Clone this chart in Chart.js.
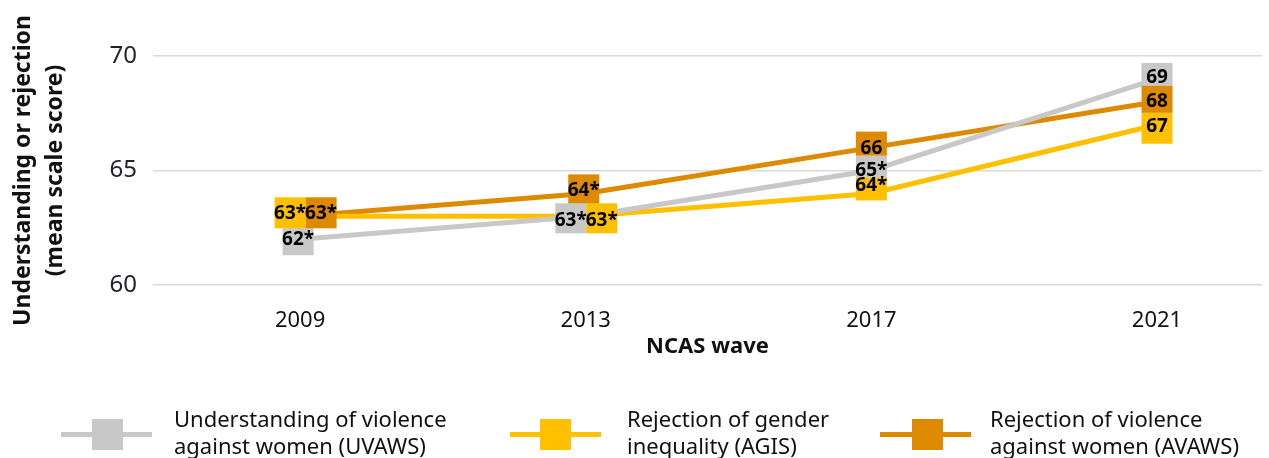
<!DOCTYPE html>
<html>
<head>
<meta charset="utf-8">
<script src="https://cdn.jsdelivr.net/npm/chart.js@4"></script>
<style>
    body { margin: 0; background: #fff; font-family: 'Noto Sans', sans-serif; }
    .wrap { position: relative; width: 1269px; height: 458px; }
    .legend-item { position: absolute; top: 405px; font-size: 22px; line-height: 27px; color: #111; white-space: nowrap; }
    .legend-line { position: absolute; height: 5px; top: 432px; }
    .legend-box { position: absolute; width: 31px; height: 31px; top: 419px; }
</style>
</head>
<body>
<div class="wrap">
    <canvas id="trendChart" width="1269" height="458"></canvas>
    <div class="legend-line" style="left:61px;width:91px;background:#c8c8c8"></div>
    <div class="legend-box" style="left:92px;background:#c8c8c8"></div>
    <div class="legend-item" style="left:174px">Understanding of violence<br>against women (UVAWS)</div>
    <div class="legend-line" style="left:510px;width:91px;background:#ffc000"></div>
    <div class="legend-box" style="left:540px;background:#ffc000"></div>
    <div class="legend-item" style="left:627px">Rejection of gender<br>inequality (AGIS)</div>
    <div class="legend-line" style="left:880px;width:91px;background:#dd8a00"></div>
    <div class="legend-box" style="left:912px;background:#dd8a00"></div>
    <div class="legend-item" style="left:990px">Rejection of violence<br>against women (AVAWS)</div>
</div>
<script>
const waves = [2009, 2013, 2017, 2021];
const uvaws = [62, 63, 65, 69];
const agis = [63, 63, 64, 67];
const avaws = [63, 64, 66, 68];
const uvawsLabels = ['62*', '63*', '65*', '69'];
const agisLabels = ['63*', '63*', '64*', '67'];
const avawsLabels = ['63*', '64*', '66', '68'];
const yTicks = [60, 65, 70];

// label box nudges relative to the point: [dx, top, bottom, textDy]
const uvawsNudge = [[-2, -11, 16, -1], [-15, -13, 17, 3], [0, -15, 7, -1], [0, -16, 7, -2]];
const agisNudge = [[-10, -19, 12, -4], [16, -13, 17, 3], [0, -16, 7, -9], [0, -12, 19, 1]];
const avawsNudge = [[21, -19, 12, -4], [-2, -19, 10, -4], [0, -16, 8, 0], [0, -16, 11, -1]];

const toPoints = vals => vals.map((v, i) => ({ x: waves[i], y: v }));

const boxLabels = {
    id: 'boxLabels',
    afterDatasetsDraw(chart) {
        const ctx = chart.ctx;
        const xs = chart.scales.x;
        const ys = chart.scales.y;
        ctx.save();
        chart.data.datasets.forEach(ds => {
            ds.data.forEach((p, i) => {
                const [dx, top, bottom] = ds.nudge[i];
                const px = xs.getPixelForValue(p.x) + dx;
                const py = ys.getPixelForValue(p.y);
                ctx.fillStyle = ds.borderColor;
                ctx.fillRect(px - 15.5, py + top, 31, bottom - top);
            });
        });
        ctx.fillStyle = '#000';
        ctx.font = 'bold 19px "Noto Sans"';
        ctx.textAlign = 'center';
        ctx.textBaseline = 'middle';
        chart.data.datasets.forEach(ds => {
            ds.data.forEach((p, i) => {
                const tdy = ds.nudge[i][3];
                const px = xs.getPixelForValue(p.x) + ds.nudge[i][0];
                const py = ys.getPixelForValue(p.y);
                ctx.fillText(ds.valueLabels[i], px, py + tdy + 1);
            });
        });
        ctx.restore();
    }
};

new Chart(document.getElementById('trendChart'), {
    type: 'line',
    data: {
        datasets: [{
            label: 'Understanding of violence against women (UVAWS)',
            data: toPoints(uvaws),
            valueLabels: uvawsLabels,
            nudge: uvawsNudge,
            borderColor: '#c8c8c8'
        }, {
            label: 'Rejection of gender inequality (AGIS)',
            data: toPoints(agis),
            valueLabels: agisLabels,
            nudge: agisNudge,
            borderColor: '#ffc000'
        }, {
            label: 'Rejection of violence against women (AVAWS)',
            data: toPoints(avaws),
            valueLabels: avawsLabels,
            nudge: avawsNudge,
            borderColor: '#dd8a00'
        }]
    },
    options: {
        responsive: false,
        animation: false,
        elements: {
            line: { borderWidth: 5, tension: 0 },
            point: { radius: 0, hoverRadius: 0 }
        },
        layout: { padding: { top: 56, right: 7, bottom: 98, left: 0 } },
        plugins: {
            legend: { display: false },
            tooltip: { enabled: false }
        },
        scales: {
            x: {
                type: 'linear',
                min: 2006.94,
                max: 2022.47,
                afterBuildTicks: scale => { scale.ticks = waves.map(v => ({ value: v })); },
                afterFit: scale => { scale.height = 75; },
                grid: { display: false },
                border: { display: false },
                ticks: {
                    padding: 15,
                    color: '#111',
                    font: { family: 'Noto Sans', size: 22 },
                    callback: v => String(v)
                },
                title: {
                    display: true,
                    text: 'NCAS wave',
                    color: '#111',
                    font: { family: 'Noto Sans', size: 22, weight: 'bold' },
                    padding: { top: 0, bottom: 0 }
                }
            },
            y: {
                min: 60,
                max: 70,
                afterBuildTicks: scale => { scale.ticks = yTicks.map(v => ({ value: v })); },
                afterFit: scale => { scale.width = 153; },
                grid: { color: '#d9d9d9', lineWidth: 1.5, drawTicks: false },
                border: { display: false },
                ticks: {
                    padding: 16,
                    color: '#22222e',
                    font: { family: 'Noto Sans', size: 24 }
                },
                title: {
                    display: true,
                    text: ['Understanding or rejection', '(mean scale score)'],
                    color: '#111',
                    font: { family: 'Noto Sans', size: 23, weight: 'bold', lineHeight: 1.38 },
                    padding: { top: 8, bottom: 0 }
                }
            }
        }
    },
    plugins: [boxLabels]
});
</script>
</body>
</html>
